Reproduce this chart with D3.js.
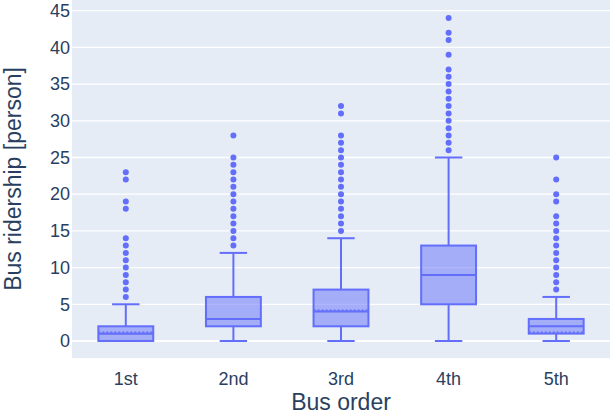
<!DOCTYPE html>
<html>
<head>
<meta charset="utf-8">
<script src="https://cdn.jsdelivr.net/npm/d3@7"></script>
<style>
  body { margin: 0; background: #fff; }
  svg text { font-family: "Liberation Sans", Arial, sans-serif; fill: #2a3f5f; }
</style>
</head>
<body>
<svg id="chart" width="612" height="416"></svg>
<script>
const categories = ['1st', '2nd', '3rd', '4th', '5th']
const q1 = [0, 2, 2, 5, 1]
const medians = [1, 3, 4, 9, 2]
const q3 = [2, 6, 7, 13, 3]
const lowerFence = [0, 0, 0, 0, 0]
const upperFence = [5, 12, 14, 25, 6]
const means = [1.2, 3.0, 4.2, 9.0, 1.2]
const outliers = [
  [6, 7, 8, 9, 10, 11, 12, 13, 14, 18, 19, 22, 23],
  [13, 14, 15, 16, 17, 18, 19, 20, 21, 22, 23, 24, 25, 28],
  [15, 16, 17, 18, 19, 20, 21, 22, 23, 24, 25, 26, 27, 28, 31, 32],
  [26, 27, 28, 29, 30, 31, 32, 33, 34, 35, 36, 37, 39, 41, 42, 44],
  [7, 8, 9, 10, 11, 12, 13, 14, 15, 16, 17, 19, 20, 22, 25],
]
const yTicks = [0, 5, 10, 15, 20, 25, 30, 35, 40, 45]

const color = '#636efa'
const svg = d3.select('#chart')
const plot = { left: 72, right: 610, top: 0, bottom: 358 }

const x = d3.scaleBand().domain(categories).range([plot.left, plot.right]).padding(0)
const y = d3.scaleLinear().domain([-2.32, 46.46]).range([plot.bottom, plot.top])

svg.append('rect')
  .attr('x', plot.left).attr('y', plot.top)
  .attr('width', plot.right - plot.left).attr('height', plot.bottom - plot.top)
  .attr('fill', '#e5ecf6')

// grid + y labels
const yAxis = d3.axisLeft(y).tickValues(yTicks).tickSize(0).tickPadding(2)
const gy = svg.append('g').attr('transform', `translate(${plot.left},0)`).call(yAxis)
gy.select('.domain').remove()
gy.selectAll('text').attr('font-size', 18).style('fill', '#2a3f5f')
  .style('font-family', '"Liberation Sans", Arial, sans-serif')

svg.append('g').selectAll('line')
  .data(yTicks)
  .enter()
  .append('line')
  .attr('x1', plot.left).attr('x2', plot.right)
  .attr('y1', d => y(d)).attr('y2', d => y(d))
  .attr('stroke', '#fff').attr('stroke-width', d => d === 0 ? 2 : 1.3)

const xAxis = d3.axisBottom(x).tickSize(0).tickPadding(14)
const gx = svg.append('g').attr('transform', `translate(0,${plot.bottom})`).call(xAxis)
gx.select('.domain').remove()
gx.selectAll('text').attr('font-size', 18).style('fill', '#2a3f5f')
  .style('font-family', '"Liberation Sans", Arial, sans-serif')

// boxes
const boxes = categories.map((c, i) => ({
  c, q1: q1[i], med: medians[i], q3: q3[i], lo: lowerFence[i], hi: upperFence[i], mean: means[i], out: outliers[i],
}))
const bw = x.bandwidth() * 0.51
const cw = bw * 0.5

const gBox = svg.append('g').selectAll('g')
  .data(boxes)
  .enter()
  .append('g')
  .attr('transform', d => `translate(${x(d.c) + x.bandwidth() / 2},0)`)

gBox.append('line')
  .attr('x1', 0).attr('x2', 0)
  .attr('y1', d => y(d.hi)).attr('y2', d => y(d.q3))
  .attr('stroke', color).attr('stroke-width', 2)
gBox.append('line')
  .attr('x1', 0).attr('x2', 0)
  .attr('y1', d => y(d.q1)).attr('y2', d => y(d.lo))
  .attr('stroke', color).attr('stroke-width', 2)
gBox.append('line')
  .attr('x1', -cw / 2).attr('x2', cw / 2)
  .attr('y1', d => y(d.hi)).attr('y2', d => y(d.hi))
  .attr('stroke', color).attr('stroke-width', 2)
gBox.append('line')
  .attr('x1', -cw / 2).attr('x2', cw / 2)
  .attr('y1', d => y(d.lo)).attr('y2', d => y(d.lo))
  .attr('stroke', color).attr('stroke-width', 2)

gBox.append('rect')
  .attr('x', -bw / 2).attr('width', bw)
  .attr('y', d => y(d.q3)).attr('height', d => y(d.q1) - y(d.q3))
  .attr('fill', color).attr('fill-opacity', 0.5)
  .attr('stroke', color).attr('stroke-width', 2)

gBox.append('line')
  .attr('x1', -bw / 2).attr('x2', bw / 2)
  .attr('y1', d => y(d.med)).attr('y2', d => y(d.med))
  .attr('stroke', color).attr('stroke-width', 2)

gBox.append('line')
  .attr('x1', -bw / 2).attr('x2', bw / 2)
  .attr('y1', d => y(d.mean)).attr('y2', d => y(d.mean))
  .attr('stroke', color).attr('stroke-width', 1.5).attr('stroke-dasharray', '2,2')

gBox.selectAll('circle')
  .data(d => d.out)
  .enter()
  .append('circle')
  .attr('cx', 0).attr('cy', d => y(d)).attr('r', 3)
  .attr('fill', color)

// axis titles
svg.append('text')
  .attr('x', (plot.left + plot.right) / 2).attr('y', 410)
  .attr('text-anchor', 'middle').attr('font-size', 23)
  .text('Bus order')

svg.append('text')
  .attr('transform', `translate(21,${(plot.top + plot.bottom) / 2}) rotate(-90)`)
  .attr('text-anchor', 'middle').attr('font-size', 23)
  .text('Bus ridership [person]')
</script>
</body>
</html>
